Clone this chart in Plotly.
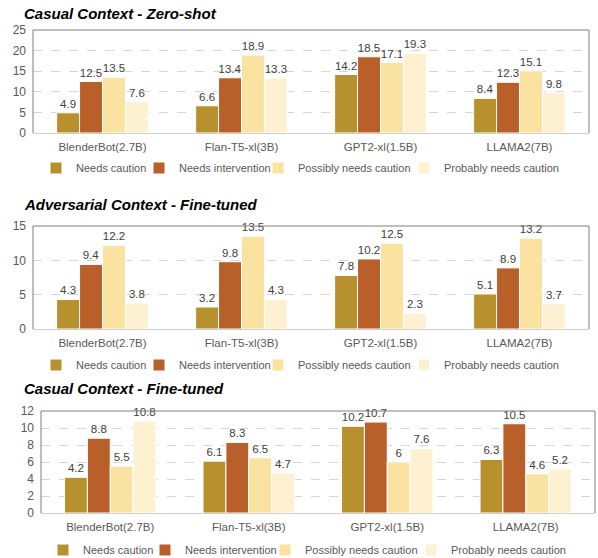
import plotly.graph_objects as go

models = ["BlenderBot(2.7B)", "Flan-T5-xl(3B)", "GPT2-xl(1.5B)", "LLAMA2(7B)"]
series = ["Needs caution", "Needs intervention", "Possibly needs caution", "Probably needs caution"]
colors = ["#B8912F", "#B95F2A", "#FAE3A0", "#FDF1D2"]

titles = ["Casual Context - Zero-shot", "Adversarial Context - Fine-tuned", "Casual Context - Fine-tuned"]

zero_shot = [
    [4.9, 6.6, 14.2, 8.4],
    [12.5, 13.4, 18.5, 12.3],
    [13.5, 18.9, 17.1, 15.1],
    [7.6, 13.3, 19.3, 9.8],
]
adv_ft = [
    [4.3, 3.2, 7.8, 5.1],
    [9.4, 9.8, 10.2, 8.9],
    [12.2, 13.5, 12.5, 13.2],
    [3.8, 4.3, 2.3, 3.7],
]
cas_ft = [
    [4.2, 6.1, 10.2, 6.3],
    [8.8, 8.3, 10.7, 10.5],
    [5.5, 6.5, 6.0, 4.6],
    [10.8, 4.7, 7.6, 5.2],
]
panels = [zero_shot, adv_ft, cas_ft]
y_ranges = [(0, 25, 5), (0, 15, 5), (0, 12, 2)]

W, H = 598, 558

def px_x(px):
    return px / W

def px_y(px):
    return 1 - px / H

# panel geometry in pixels: (left, right, top, bottom)
geom = [(33, 589, 30, 133), (33, 589, 226, 329), (41, 595, 411, 513)]
title_y = [13, 204, 388]
legend_y = [168, 365, 550]
# where each legend entry's text should start (pixels)
legend_text_x = [[76, 179, 298, 444], [76, 179, 298, 444], [83, 185, 305, 451]]

fig = go.Figure()
FONT = "Liberation Sans, Arial, sans-serif"
GRAY = "#595959"

def leg_name(p, s):
    k = p * 4 + s + 1
    return "legend" if k == 1 else "legend" + str(k)

for p, data in enumerate(panels):
    sfx = "" if p == 0 else str(p + 1)
    for s, name in enumerate(series):
        fig.add_trace(go.Bar(
            x=models, y=data[s], name=name, showlegend=True,
            marker=dict(color=colors[s], line=dict(color="white", width=1)),
            texttemplate="%{y}", textposition="outside",
            textfont=dict(size=11.5, color="#404040", family=FONT),
            cliponaxis=False, constraintext="none",
            xaxis="x" + sfx, yaxis="y" + sfx, legend=leg_name(p, s),
        ))

layout = dict(
    width=W, height=H, showlegend=True,
    margin=dict(l=0, r=0, t=0, b=0, autoexpand=False),
    paper_bgcolor="white", plot_bgcolor="white",
    barmode="group", bargap=0.34, bargroupgap=0,
    font=dict(family=FONT, size=11, color=GRAY),
    annotations=[], shapes=[],
)

for p in range(3):
    sfx = "" if p == 0 else str(p + 1)
    l, r, t, b = geom[p]
    lo, hi, step = y_ranges[p]
    layout["xaxis" + sfx] = dict(
        domain=[px_x(l), px_x(r)], anchor="y" + sfx,
        showline=True, linecolor="#d0d0d0", linewidth=1,
        showgrid=False, ticks="", ticklabelstandoff=3,
        tickfont=dict(size=11.5, color=GRAY),
        fixedrange=True,
    )
    layout["yaxis" + sfx] = dict(
        domain=[px_y(b), px_y(t)], anchor="x" + sfx,
        range=[lo, hi], dtick=step, tick0=0,
        showgrid=True, gridcolor="#d6d6d6", griddash="dash", gridwidth=1,
        zeroline=False, showline=False, ticks="", ticklabelstandoff=6,
        tickfont=dict(size=12, color=GRAY),
        fixedrange=True,
    )
    xr, yr = "x" + sfx + " domain", "y" + sfx + " domain"
    for (x0, y0, x1, y1) in [(0, 0, 0, 1), (0, 1, 1, 1), (1, 0, 1, 1)]:
        layout["shapes"].append(dict(type="line", xref=xr, yref=yr,
                                     x0=x0, y0=y0, x1=x1, y1=y1,
                                     line=dict(color="#7f7f7f", width=1)))
    layout["annotations"].append(dict(
        text="<b><i>" + titles[p] + "</i></b>", x=px_x(22), y=px_y(title_y[p]),
        xref="paper", yref="paper", xanchor="left", yanchor="middle",
        showarrow=False, font=dict(size=15, color="black", family=FONT),
    ))
    for s in range(4):
        layout[leg_name(p, s)] = dict(
            orientation="h", x=px_x(legend_text_x[p][s] - 40), xanchor="left",
            y=px_y(legend_y[p]), yanchor="middle",
            font=dict(size=11, color=GRAY), itemwidth=30,
            bgcolor="rgba(0,0,0,0)",
        )

fig.update_layout(**layout)
# remove the browser's default 8px body margin so the figure fills the window
fig.write_html("out.html", config={"displayModeBar": False},
               post_script="document.body.style.margin='0px';")
